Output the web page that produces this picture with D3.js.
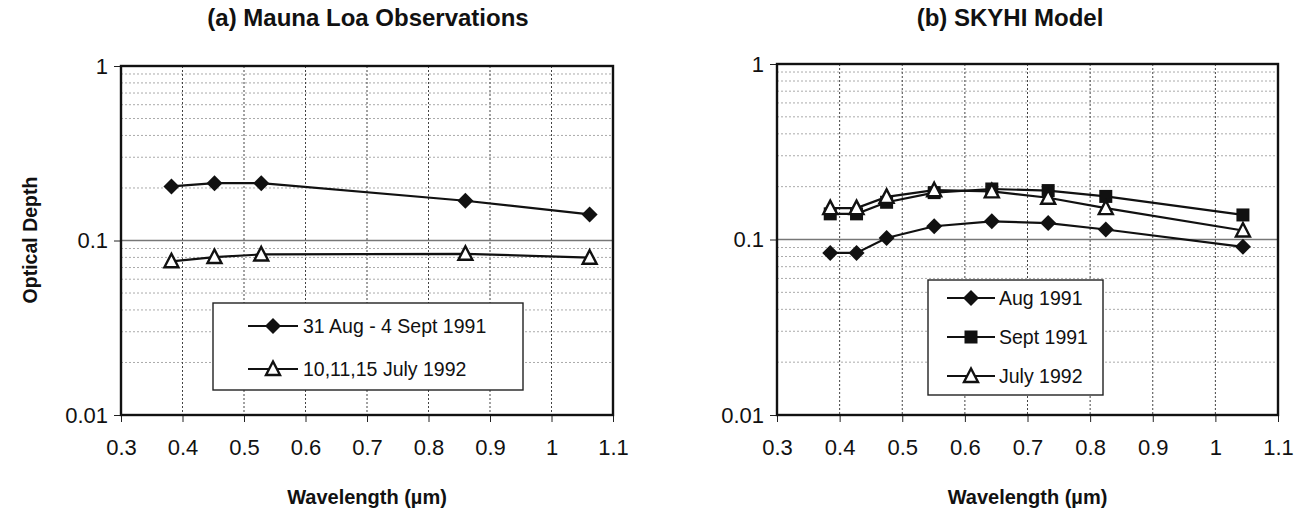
<!DOCTYPE html>
<html>
<head>
<meta charset="utf-8">
<script src="https://cdn.jsdelivr.net/npm/d3@7"></script>
<style>
  body { margin: 0; background: #fff; }
  text { font-family: "Liberation Sans", Arial, sans-serif; fill: #111; }
</style>
</head>
<body>
<div id="chart-area"></div>
<script>
// Panel (a) - Mauna Loa observations
const mloWave = [0.382, 0.452, 0.528, 0.860, 1.062];
const mlo1991 = [0.204, 0.213, 0.213, 0.169, 0.141];
const mlo1992 = [0.076, 0.0804, 0.0832, 0.0839, 0.0797];
const mloNames = ['31 Aug - 4 Sept 1991', '10,11,15 July 1992'];

// Panel (b) - SKYHI model
const skyWave = [0.385, 0.427, 0.475, 0.551, 0.643, 0.733, 0.825, 1.044];
const skyAug1991 = [0.0839, 0.0839, 0.102, 0.119, 0.127, 0.124, 0.114, 0.0908];
const skySep1991 = [0.140, 0.140, 0.163, 0.185, 0.194, 0.190, 0.176, 0.138];
const skyJul1992 = [0.151, 0.151, 0.175, 0.191, 0.188, 0.173, 0.151, 0.1125];
const skyNames = ['Aug 1991', 'Sept 1991', 'July 1992'];

// Axis ticks
const xTicks = [0.3, 0.4, 0.5, 0.6, 0.7, 0.8, 0.9, 1, 1.1];
const yTicks = [0.01, 0.1, 1];

const svg = d3.select('#chart-area').append('svg')
  .attr('width', 1309)
  .attr('height', 514);

function minorValues() {
  const out = [];
  [0.01, 0.1].forEach((dec) => {
    for (let k = 2; k <= 9; k++) out.push(k * dec);
  });
  return out;
}

function drawMarker(g, type, x, y) {
  if (type === 'diamond') {
    g.append('path')
      .attr('d', `M${x},${y - 8}L${x + 8},${y}L${x},${y + 8}L${x - 8},${y}Z`)
      .attr('fill', '#111');
  } else if (type === 'square') {
    g.append('rect')
      .attr('x', x - 6.5).attr('y', y - 6.5)
      .attr('width', 13).attr('height', 13)
      .attr('fill', '#111');
  } else {
    g.append('path')
      .attr('d', `M${x},${y - 7.5}L${x + 7},${y + 6}L${x - 7},${y + 6}Z`)
      .attr('fill', '#fff')
      .attr('stroke', '#111')
      .attr('stroke-width', 2.4)
      .attr('stroke-linejoin', 'miter');
  }
}

function drawPanel(p) {
  const width = p.right - p.left;
  const height = p.bottom - p.top;
  const g = svg.append('g')
    .attr('transform', 'translate(' + p.left + ', ' + p.top + ')');

  const x = d3.scaleLinear().domain([0.3, 1.1]).range([0, width]);
  const y = d3.scaleLog().domain([0.01, 1]).range([height, 0]);

  // minor horizontal grid
  g.selectAll('.minor')
    .data(minorValues())
    .enter().append('line')
    .attr('x1', 0).attr('x2', width)
    .attr('y1', (d) => y(d)).attr('y2', (d) => y(d))
    .attr('stroke', '#aaa')
    .attr('stroke-width', 1)
    .attr('stroke-dasharray', '2,2');

  // major horizontal grid (0.1)
  g.append('line')
    .attr('x1', 0).attr('x2', width)
    .attr('y1', y(0.1)).attr('y2', y(0.1))
    .attr('stroke', '#777')
    .attr('stroke-width', 1.3);

  // vertical grid
  g.selectAll('.vgrid')
    .data(xTicks.slice(1, -1))
    .enter().append('line')
    .attr('x1', (d) => x(d)).attr('x2', (d) => x(d))
    .attr('y1', 0).attr('y2', height)
    .attr('stroke', '#444')
    .attr('stroke-width', 1)
    .attr('stroke-dasharray', '2,2');

  // axes
  const xAxisCall = d3.axisBottom(x)
    .tickValues(xTicks)
    .tickSize(7)
    .tickPadding(17)
    .tickFormat((d) => d3.format('~g')(d));
  const xa = g.append('g')
    .attr('class', 'x-axis')
    .attr('transform', 'translate(0, ' + height + ')')
    .call(xAxisCall);
  xa.select('.domain').remove();
  xa.selectAll('line').attr('stroke', '#222');
  xa.selectAll('text').attr('font-size', '22px').attr('fill', '#111')
    .attr('font-family', '"Liberation Sans", Arial, sans-serif');

  const yAxisCall = d3.axisLeft(y)
    .tickValues(yTicks)
    .tickSize(7)
    .tickPadding(6)
    .tickFormat((d) => d3.format('~g')(d));
  const ya = g.append('g')
    .attr('class', 'y-axis')
    .call(yAxisCall);
  ya.select('.domain').remove();
  ya.selectAll('line').attr('stroke', '#222');
  ya.selectAll('text').attr('font-size', '22px').attr('fill', '#111')
    .attr('font-family', '"Liberation Sans", Arial, sans-serif');

  // frame
  g.append('rect')
    .attr('width', width).attr('height', height)
    .attr('fill', 'none')
    .attr('stroke', '#111')
    .attr('stroke-width', 2.4);

  // series
  const line = d3.line()
    .x((d) => x(d[0]))
    .y((d) => y(d[1]));

  p.series.forEach((s) => {
    const pts = p.wave.map((w, i) => [w, s.values[i]]);
    g.append('path')
      .datum(pts)
      .attr('d', line)
      .attr('fill', 'none')
      .attr('stroke', '#111')
      .attr('stroke-width', 2.2);
  });
  p.series.forEach((s) => {
    p.wave.forEach((w, i) => drawMarker(g, s.marker, x(w), y(s.values[i])));
  });

  // legend (box given in panel pixels)
  const lg = p.legend;
  g.append('rect')
    .attr('x', lg.x0).attr('y', lg.y0)
    .attr('width', lg.x1 - lg.x0).attr('height', lg.y1 - lg.y0)
    .attr('fill', '#fff')
    .attr('stroke', '#222')
    .attr('stroke-width', 1.4);
  p.series.forEach((s, i) => {
    const ry = lg.rows[i];
    g.append('line')
      .attr('x1', lg.l0).attr('x2', lg.l1)
      .attr('y1', ry).attr('y2', ry)
      .attr('stroke', '#111').attr('stroke-width', 2);
    drawMarker(g, s.marker, (lg.l0 + lg.l1) / 2, ry);
    g.append('text')
      .attr('x', lg.t)
      .attr('y', ry)
      .attr('dy', '0.35em')
      .attr('font-size', '19.5px')
      .text(s.name);
  });

  // title
  svg.append('text')
    .attr('x', p.titleX)
    .attr('y', 26)
    .attr('text-anchor', 'middle')
    .attr('font-size', '24px')
    .attr('font-weight', 'bold')
    .text(p.title);

  // X label
  svg.append('text')
    .attr('x', p.left + width / 2)
    .attr('y', 504)
    .attr('text-anchor', 'middle')
    .attr('font-size', '20px')
    .attr('font-weight', 'bold')
    .text('Wavelength (\u00b5m)');
}

drawPanel({
  left: 121, right: 613, top: 66, bottom: 415,
  title: '(a) Mauna Loa Observations', titleX: 368,
  wave: mloWave,
  series: [
    { name: mloNames[0], values: mlo1991, marker: 'diamond' },
    { name: mloNames[1], values: mlo1992, marker: 'triangle' }
  ],
  legend: { x0: 92, x1: 402, y0: 237, y1: 324, rows: [260, 303], l0: 127, l1: 177, t: 182 }
});

drawPanel({
  left: 777, right: 1278, top: 64, bottom: 415,
  title: '(b) SKYHI Model', titleX: 1010,
  wave: skyWave,
  series: [
    { name: skyNames[0], values: skyAug1991, marker: 'diamond' },
    { name: skyNames[1], values: skySep1991, marker: 'square' },
    { name: skyNames[2], values: skyJul1992, marker: 'triangle' }
  ],
  legend: { x0: 151, x1: 326, y0: 216, y1: 331, rows: [234, 273, 312], l0: 170, l1: 218, t: 222 }
});

// Y Label
svg.append('text')
  .attr('transform', 'translate(37, 240) rotate(-90)')
  .attr('text-anchor', 'middle')
  .attr('font-size', '19.5px')
  .attr('font-weight', 'bold')
  .text('Optical Depth');
</script>
</body>
</html>
